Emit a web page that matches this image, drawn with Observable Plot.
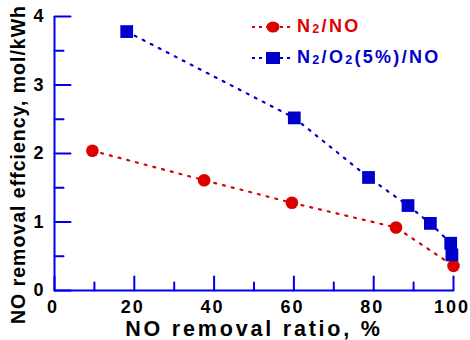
<!DOCTYPE html>
<html>
<head>
<meta charset="utf-8">
<script src="https://cdn.jsdelivr.net/npm/d3@7"></script>
<script src="https://cdn.jsdelivr.net/npm/@observablehq/plot@0.6"></script>
<style>
  body { margin: 0; background: #fff; }
  #wrap { position: relative; width: 470px; height: 340px; font-family: "Liberation Sans", Arial, sans-serif; }
  #wrap svg text { font-weight: bold; }
  .ticklbl text { letter-spacing: 2px; font-size: 18px; }
  .yticklbl text { font-size: 18px; }
  .xtitle text { letter-spacing: 2.8px; font-size: 21.5px; }
  .ytitle text { letter-spacing: 1px; font-size: 19.5px; }
  #legend { position: absolute; left: 252px; top: 11px; font-weight: bold; font-size: 18px; letter-spacing: 2.3px; }
  .row { display: flex; align-items: center; height: 31px; }
  .row sub { font-size: 12.5px; vertical-align: -1px; }
</style>
</head>
<body>
<div id="wrap"></div>
<script>
// Series: N2/NO (red circles)
const n2X = [9.5, 37.5, 59.5, 85.6, 100];
const n2Y = [2.04, 1.61, 1.28, 0.92, 0.36];
// Series: N2/O2(5%)/NO (blue squares)
const o2X = [18.1, 60.1, 78.7, 88.6, 94.2, 99.3, 99.6];
const o2Y = [3.78, 2.52, 1.65, 1.24, 0.98, 0.69, 0.52];

const seriesNames = ["N<sub>2</sub>/NO", "N<sub>2</sub>/O<sub>2</sub>(5%)/NO"];
const seriesColors = ["#dd0000", "#0000cc"];
const axisColor = "#0000e6";

const xMajor = [0, 20, 40, 60, 80, 100];
const xMinor = [10, 30, 50, 70, 90];
const yMajor = [0, 1, 2, 3, 4];
const yMinor = [0.5, 1.5, 2.5, 3.5];
const xTitle = "NO removal ratio, %";
const yTitle = "NO removal effciency, mol/kWh";

const red = n2X.map((x, i) => ({x, y: n2Y[i]}));
const blue = o2X.map((x, i) => ({x, y: o2Y[i]}));

const tickShape = {draw(ctx, l) { ctx.moveTo(0, 0); ctx.lineTo(0, -l); }};

const chart = Plot.plot({
  width: 470,
  height: 340,
  marginLeft: 54,
  marginRight: 17,
  marginTop: 16,
  marginBottom: 50,
  style: {fontFamily: "'Liberation Sans', Arial, sans-serif", fontSize: "17px", color: "black", background: "white"},
  x: {domain: [0, 100]},
  y: {domain: [0, 4]},
  marks: [
    Plot.axisX({ticks: xMajor, tickSize: 0, tickPadding: 10, dx: -1.5, label: null, tickFormat: d => String(d), className: "ticklbl"}),
    Plot.axisY({ticks: yMajor, tickSize: 0, tickPadding: 11, label: null, tickFormat: d => String(d), className: "yticklbl"}),
    Plot.ruleY([0], {stroke: axisColor, strokeWidth: 2}),
    Plot.ruleX([0], {stroke: axisColor, strokeWidth: 2}),
    Plot.vector(xMajor, {x: d => d, y: 0, length: 14, anchor: "start", shape: tickShape, stroke: axisColor, strokeWidth: 2}),
    Plot.vector(xMinor, {x: d => d, y: 0, length: 8, anchor: "start", shape: tickShape, stroke: axisColor, strokeWidth: 2}),
    Plot.vector(yMajor, {x: 0, y: d => d, rotate: 90, length: 16, anchor: "start", shape: tickShape, stroke: axisColor, strokeWidth: 2}),
    Plot.vector(yMinor, {x: 0, y: d => d, rotate: 90, length: 9, anchor: "start", shape: tickShape, stroke: axisColor, strokeWidth: 2}),
    Plot.line(red, {x: "x", y: "y", stroke: seriesColors[0], strokeWidth: 2.2, strokeDasharray: "2,7"}),
    Plot.line(blue, {x: "x", y: "y", stroke: seriesColors[1], strokeWidth: 2.2, strokeDasharray: "2,7"}),
    Plot.dot(red, {x: "x", y: "y", r: 6.3, fill: seriesColors[0], stroke: "none"}),
    Plot.dot(blue, {x: "x", y: "y", r: 7.2, symbol: "square", fill: seriesColors[1], stroke: "none"}),
    Plot.text([xTitle], {frameAnchor: "bottom", dy: 45, lineAnchor: "bottom", textAnchor: "middle", text: d => d, fill: "black", className: "xtitle"}),
    Plot.text([yTitle], {frameAnchor: "left", textAnchor: "middle", rotate: -90, dx: -36, dy: 11, text: d => d, fill: "black", className: "ytitle"})
  ]
});

const wrap = document.getElementById("wrap");
wrap.appendChild(chart);

// Legend
const legend = document.createElement("div");
legend.id = "legend";
seriesNames.forEach((name, i) => {
  const row = document.createElement("div");
  row.className = "row";
  const c = seriesColors[i];
  const marker = i === 0
    ? `<ellipse cx="21" cy="7" rx="6.5" ry="5.5" fill="${c}"/>`
    : `<rect x="14" y="1" width="14" height="12" fill="${c}"/>`;
  row.innerHTML = `<svg width="45" height="14"><line x1="0" y1="7" x2="41" y2="7" stroke="${c}" stroke-width="2" stroke-dasharray="3,4"/>${marker}</svg><span style="color:${c}">${name}</span>`;
  legend.appendChild(row);
});
wrap.appendChild(legend);
</script>
</body>
</html>
